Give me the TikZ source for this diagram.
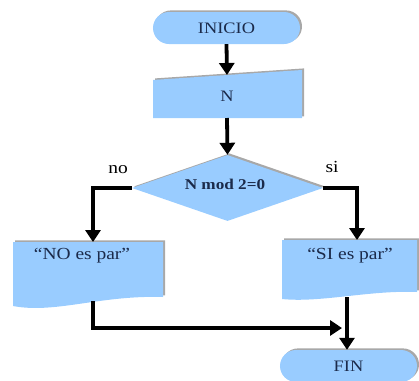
\documentclass[tikz,border=0pt]{standalone}
\usepackage{fontspec}
\setmainfont{Liberation Serif}[FakeStretch=1.15]
\usetikzlibrary{shapes.misc,shapes.geometric,arrows.meta,shadows}
\definecolor{boxblue}{HTML}{99CCFF}
\definecolor{navy}{HTML}{1B2A4A}
\definecolor{shade}{HTML}{A8A8A8}
\begin{document}
\begin{tikzpicture}[x=1bp,y=-1bp,
  flow/.style={line width=3.8bp,line join=miter,-{Triangle[width=15bp,length=12bp]}},
  sh/.style={drop shadow={shadow xshift=2bp,shadow yshift=1.6bp,fill=shade,opacity=1}},
  term/.style={rounded rectangle,fill=boxblue,sh,minimum height=32bp,inner sep=0pt,text=navy,font=\fontsize{16}{19}\selectfont},
  lbl/.style={text=navy,font=\fontsize{17}{20}\selectfont,inner sep=0pt},
  branch/.style={text=black,font=\fontsize{17}{20}\selectfont,inner sep=0pt}
]
\useasboundingbox (0,0) rectangle (419,381);

% start / end
\node[term,minimum width=147bp] (inicio) at (226.5,28) {INICIO};
\node[term,minimum width=137bp] (fin) at (348.5,366) {FIN};

% manual input N
\fill[boxblue,sh] (153,80) -- (302,70) -- (302,118) -- (153,118) -- cycle;
\coordinate (ntop) at (227,75);
\coordinate (nbot) at (227,118);
\node[lbl,font=\fontsize{16}{19}\selectfont] (n) at (227,96) {N};

% decision
\node[diamond,fill=boxblue,sh,minimum width=191bp,minimum height=66bp,inner sep=0pt,aspect=2.9] (dec) at (227.5,188) {};
\node[lbl,font=\fontsize{15}{18}\selectfont\bfseries] (dectext) at (225,184) {N mod 2=0};
\node[branch] (no) at (118,170) {no};
\node[branch] (si) at (332,167) {si};

% output documents
\fill[boxblue,sh] (13,242) -- (163,242) -- (163,297)
  .. controls (100,295) and (55,314) .. (13,306) -- cycle;
\coordinate (ltop) at (93,242);
\coordinate (lbot) at (93,301);
\node[lbl] (notext) at (82,256) {“NO es par”};

\fill[boxblue,sh] (282,240) -- (417,240) -- (417,292)
  .. controls (370,290) and (320,303) .. (282,299) -- cycle;
\coordinate (rtop) at (357,240);
\coordinate (rbot) at (347,297);
\node[lbl] (sitext) at (350,256) {“SI es par”};

\coordinate (join) at (342,328);

% connectors
\draw[flow] (inicio.south) -- (ntop);
\draw[flow] (nbot) -- (dec.north);
\draw[flow] (dec.west) -- (dec.west -| ltop) -- (ltop);
\draw[flow] (dec.east) -- (dec.east -| rtop) -- (rtop);
\draw[flow] (lbot) |- (join);
\draw[flow] (rbot) -- (rbot |- fin.north);
\end{tikzpicture}
\end{document}
